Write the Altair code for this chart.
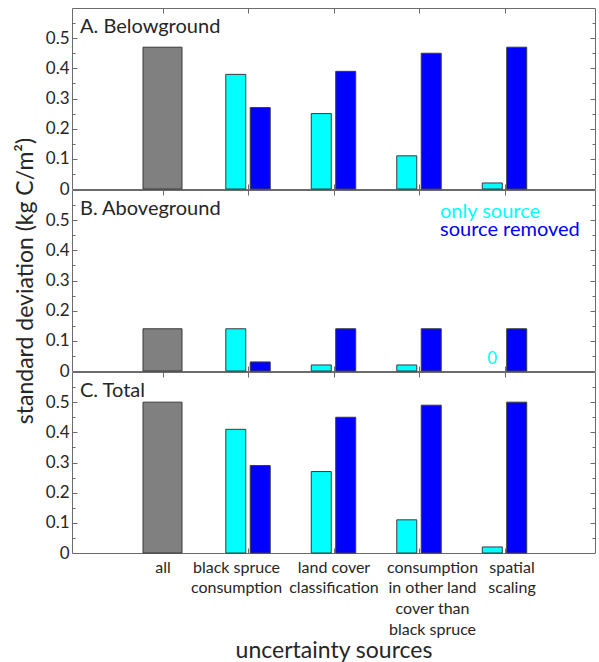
import json
import altair as alt
import pandas as pd

# Uncertainty sources (x categories) and their multi-line tick labels
sources = ["all", "black spruce consumption", "land cover classification",
           "consumption in other land cover than black spruce", "spatial scaling"]
source_lines = [["all"],
                ["black spruce", "consumption"],
                ["land cover", "classification"],
                ["consumption", "in other land", "cover than", "black spruce"],
                ["spatial", "scaling"]]

panel_titles = ["A. Belowground", "B. Aboveground", "C. Total"]
series_names = ["only source", "source removed"]

# Standard deviation with all sources combined, per panel
all_sd = [0.47, 0.14, 0.50]

# Per-source standard deviations (black spruce, land cover, other consumption, scaling)
below_only = [0.38, 0.25, 0.11, 0.02]
below_removed = [0.27, 0.39, 0.45, 0.47]
above_only = [0.14, 0.02, 0.02, 0.0]
above_removed = [0.03, 0.14, 0.14, 0.14]
total_only = [0.41, 0.27, 0.11, 0.02]
total_removed = [0.29, 0.45, 0.49, 0.50]

y_ticks = [0, 0.1, 0.2, 0.3, 0.4, 0.5]
y_minor = [0.05, 0.1, 0.15, 0.2, 0.25, 0.3, 0.35, 0.4, 0.45, 0.5, 0.55]

W, H = 523, 181
FONT = "Lato"
INK = "#262626"
FRAME = "#6b6b6b"
GRAY = "#808080"
CYAN = "#00FFFF"
BLUE = "#0000FF"
EDGE = "#3a3a3a"

label_expr = json.dumps(source_lines) + "[round(datum.value) - 1]"
major_or_minor = {"condition": {"test": "round(datum.value * 100) % 10 == 0", "value": 5}, "value": 3}
# nudge the long category labels apart so neighbouring lines do not collide
label_nudge = {"condition": [{"test": "datum.value == 2", "value": -12},
                             {"test": "datum.value == 4", "value": 13},
                             {"test": "datum.value == 5", "value": 7}],
               "value": 0}


def panel(i, only, removed, last):
    rows = [{"source": 1, "series": "all", "sd": all_sd[i]}]
    for k, (o, r) in enumerate(zip(only, removed)):
        rows.append({"source": k + 2, "series": series_names[0], "sd": o})
        rows.append({"source": k + 2, "series": series_names[1], "sd": r})
    df = pd.DataFrame(rows)

    base = alt.Chart(df).transform_calculate(
        pos="datum.source + (datum.series == 'only source' ? -0.143 : "
            "datum.series == 'source removed' ? 0.143 : 0)"
    )
    xs = alt.Scale(domain=[0, 6], nice=False, zero=False)
    ys = alt.Scale(domain=[0, 0.6], nice=False)

    label_y = alt.Axis(orient="left", values=y_ticks, format=".1~f", ticks=False,
                       domain=False, grid=False, labelFontSize=17, labelColor=INK,
                       labelPadding=3,
                       title="standard deviation  (kg C/m²)" if i == 1 else None,
                       titleFontSize=23, titleColor=INK, titlePadding=8)
    in_left_y = alt.Axis(orient="right", offset=-W, values=y_minor, labels=False,
                         domain=False, grid=False, tickSize=major_or_minor,
                         tickColor=FRAME, title=None)
    in_right_y = alt.Axis(orient="left", offset=-W, values=y_minor, labels=False,
                          domain=False, grid=False, tickSize=major_or_minor,
                          tickColor=FRAME, title=None)
    top_in = alt.Axis(orient="bottom", offset=-H, values=[1, 2, 3, 4, 5], labels=False,
                      domain=False, grid=False, tickSize=5, tickColor=FRAME, title=None)
    bottom_in = alt.Axis(orient="top", offset=-H, values=[1, 2, 3, 4, 5], labels=False,
                         domain=False, grid=False, tickSize=5, tickColor=FRAME, title=None)
    bottom_labels = alt.Axis(orient="bottom", values=[1, 2, 3, 4, 5], ticks=False,
                             domain=False, grid=False, labelExpr=label_expr,
                             labelOverlap=False, labelFlush=False, labelOffset=label_nudge,
                             labelFontSize=16, labelColor=INK, labelLineHeight=20.7,
                             labelPadding=6, title="uncertainty sources",
                             titleFontSize=23, titleColor=INK, titlePadding=2)

    gray = base.transform_filter("datum.series == 'all'").mark_bar(
        orient="vertical", width=39, color=GRAY, stroke=EDGE, strokeWidth=1
    ).encode(
        x=alt.X("pos:Q", scale=xs, axis=bottom_labels if last else None),
        y=alt.Y("sd:Q", scale=ys, axis=label_y),
    )
    cyan = base.transform_filter("datum.series == 'only source' && datum.sd > 0").mark_bar(
        orient="vertical", width=20, color=CYAN, stroke=EDGE, strokeWidth=1
    ).encode(
        x=alt.X("pos:Q", scale=xs, axis=top_in),
        y=alt.Y("sd:Q", scale=ys, axis=in_left_y),
    )
    blue = base.transform_filter("datum.series == 'source removed'").mark_bar(
        orient="vertical", width=20, color=BLUE, stroke=EDGE, strokeWidth=1
    ).encode(
        x=alt.X("pos:Q", scale=xs, axis=bottom_in),
        y=alt.Y("sd:Q", scale=ys, axis=in_right_y),
    )
    zero = base.transform_filter(
        "datum.series == 'only source' && datum.sd == 0"
    ).mark_text(color=CYAN, fontSize=17, baseline="bottom", dy=-3).encode(
        x=alt.X("pos:Q", scale=xs, axis=None),
        y=alt.Y("sd:Q", scale=ys, axis=None),
        text=alt.Text("sd:Q", format="~g"),
    )
    title = alt.Chart(pd.DataFrame({"t": [panel_titles[i]]})).mark_text(
        align="left", baseline="alphabetic", fontSize=20, color=INK
    ).encode(x=alt.value(8), y=alt.value(25), text="t:N")

    layers = [gray, cyan, blue, zero, title]
    if i == 1:
        for name, col, yy in [(series_names[0], CYAN, 28), (series_names[1], BLUE, 46)]:
            layers.append(
                alt.Chart(pd.DataFrame({"t": [name]})).mark_text(
                    align="left", baseline="alphabetic", fontSize=20, color=col
                ).encode(x=alt.value(368), y=alt.value(yy), text="t:N")
            )
    return alt.layer(*layers).resolve_axis(x="independent", y="independent").properties(
        width=W, height=H
    )


chart = alt.vconcat(
    panel(0, below_only, below_removed, False),
    panel(1, above_only, above_removed, False),
    panel(2, total_only, total_removed, True),
    spacing=1,
    bounds="flush",
).properties(
    padding={"left": 13, "top": 7, "right": 1, "bottom": 0}
).configure_view(
    stroke=FRAME, strokeWidth=1
).configure_axis(
    labelFont=FONT, titleFont=FONT, titleFontWeight="normal"
).configure_text(font=FONT)

chart.save("out.html", embed_options={"renderer": "svg", "actions": False})
